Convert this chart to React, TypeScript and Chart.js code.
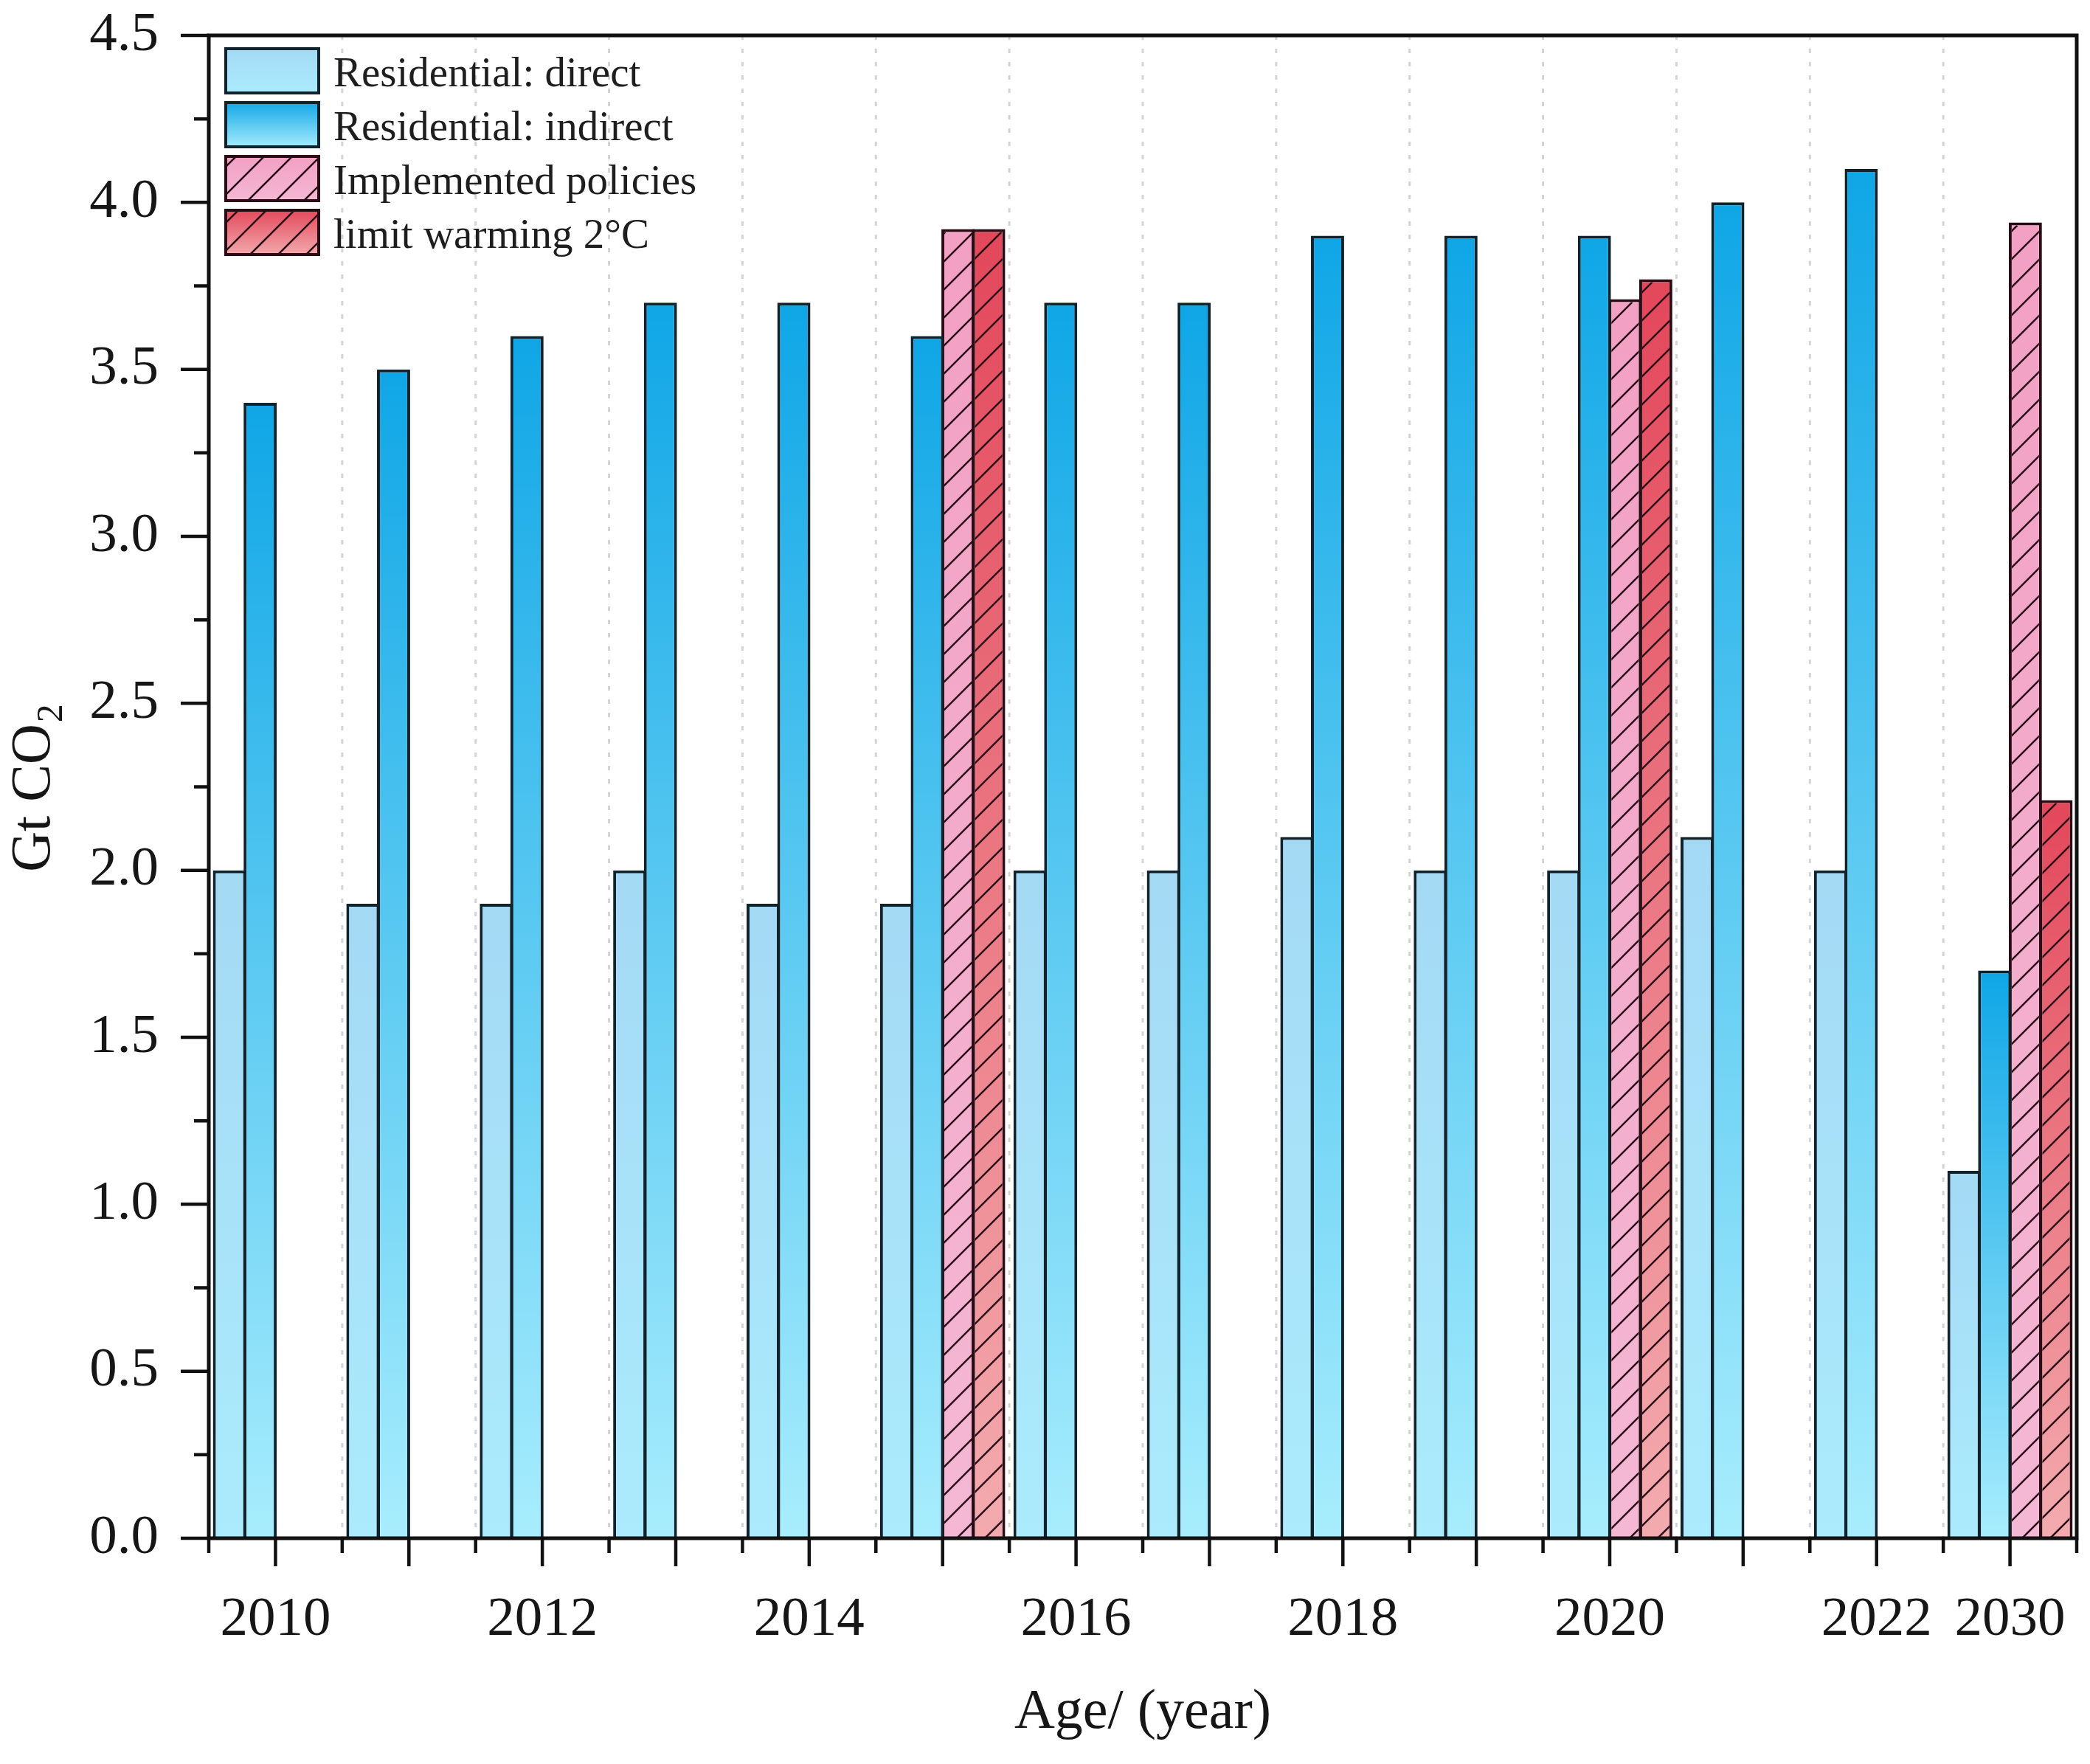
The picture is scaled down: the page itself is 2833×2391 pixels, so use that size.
import { useEffect, useRef } from "react";
import { Chart, registerables } from "chart.js";

Chart.register(...registerables);

const categories = ["2010", "2011", "2012", "2013", "2014", "2015", "2016", "2017", "2018", "2019", "2020", "2021", "2022", "2030"];
const shownTickLabels = ["2010", "2012", "2014", "2016", "2018", "2020", "2022", "2030"];

const directValues = [2.0, 1.9, 1.9, 2.0, 1.9, 1.9, 2.0, 2.0, 2.1, 2.0, 2.0, 2.1, 2.0, 1.1];
const indirectValues = [3.4, 3.5, 3.6, 3.7, 3.7, 3.6, 3.7, 3.7, 3.9, 3.9, 3.9, 4.0, 4.1, 1.7];
const implementedValues = [null, null, null, null, null, 3.92, null, null, null, null, 3.71, null, null, 3.94];
const limitValues = [null, null, null, null, null, 3.92, null, null, null, null, 3.77, null, null, 2.21];

const seriesLabels = ["Residential: direct", "Residential: indirect", "Implemented policies", "limit warming 2\u00b0C"];

const FONT = '"Liberation Serif", "Times New Roman", serif';
const W = 2833;
const H = 2391;

// top / bottom colours of each series' gradient
const fills = [
  ["#a4d9f4", "#abebfd"],
  ["#0fa6e6", "#a8edfd"],
  ["#f2a0c3", "#f4b8d4"],
  ["#e3475a", "#f3abaf"],
];
const borders = ["#10232c", "#10232c", "#2a0c16", "#2a0c16"];
const hatched = [false, false, true, true];

const barGradient = (idx: number) => (ctx: any) => {
  const chart = ctx.chart;
  const yScale = chart.scales?.y;
  const [top, bottom] = fills[idx];
  if (!yScale || ctx.type !== "data" || ctx.raw == null) return top;
  const y0 = yScale.getPixelForValue(ctx.raw);
  const y1 = yScale.getPixelForValue(0);
  if (!Number.isFinite(y0) || !Number.isFinite(y1) || y0 === y1) return top;
  const g = chart.ctx.createLinearGradient(0, y0, 0, y1);
  g.addColorStop(0, top);
  g.addColorStop(1, bottom);
  return g;
};

function drawHatch(ctx: CanvasRenderingContext2D, l: number, t: number, r: number, b: number) {
  const gap = 38;
  ctx.save();
  ctx.beginPath();
  ctx.rect(l, t, r - l, b - t);
  ctx.clip();
  ctx.strokeStyle = "#2b0f18";
  ctx.lineWidth = 2.5;
  ctx.beginPath();
  const k0 = Math.floor((l + t) / gap) - 1;
  const k1 = Math.ceil((r + b) / gap) + 1;
  for (let k = k0; k <= k1; k++) {
    const c = k * gap;
    ctx.moveTo(c - b, b);
    ctx.lineTo(c - t, t);
  }
  ctx.stroke();
  ctx.restore();
}

const gridPlugin = {
  id: "dottedGrid",
  beforeDatasetsDraw(chart: any) {
    const { ctx, chartArea, scales } = chart;
    const xs = scales.x;
    ctx.save();
    ctx.strokeStyle = "#d4d4d4";
    ctx.lineWidth = 3;
    ctx.setLineDash([6, 12]);
    for (let i = 1; i < categories.length; i++) {
      const x = (xs.getPixelForValue(i - 1) + xs.getPixelForValue(i)) / 2;
      ctx.beginPath();
      ctx.moveTo(x, chartArea.top);
      ctx.lineTo(x, chartArea.bottom);
      ctx.stroke();
    }
    ctx.restore();
  },
};

const hatchPlugin = {
  id: "hatchBars",
  afterDatasetsDraw(chart: any) {
    const ctx = chart.ctx;
    chart.data.datasets.forEach((ds: any, di: number) => {
      if (!hatched[di]) return;
      const meta = chart.getDatasetMeta(di);
      meta.data.forEach((bar: any, i: number) => {
        if (ds.data[i] == null) return;
        const { x, y, base, width } = bar.getProps(["x", "y", "base", "width"], true);
        const bw = 4;
        drawHatch(ctx, x - width / 2 + bw, y + bw, x + width / 2 - bw, base);
      });
    });
  },
};

const framePlugin = {
  id: "frameTicks",
  afterDatasetsDraw(chart: any) {
    const { ctx, chartArea, scales } = chart;
    const { left, right, top, bottom } = chartArea;
    const xs = scales.x;
    const ys = scales.y;
    ctx.save();
    ctx.strokeStyle = "#111";
    ctx.lineWidth = 5;
    ctx.lineCap = "square";
    ctx.beginPath();
    ctx.moveTo(left, top);
    ctx.lineTo(right, top);
    ctx.lineTo(right, bottom);
    ctx.lineTo(left, bottom);
    ctx.closePath();
    ctx.stroke();

    ctx.lineCap = "butt";
    ctx.lineWidth = 4.5;
    ctx.beginPath();
    // y ticks
    ys.ticks.forEach((t: any) => {
      const y = ys.getPixelForValue(t.value);
      ctx.moveTo(left, y);
      ctx.lineTo(left - 38, y);
      const m = t.value + 0.25;
      if (m < ys.max) {
        const ym = ys.getPixelForValue(m);
        ctx.moveTo(left, ym);
        ctx.lineTo(left - 20, ym);
      }
    });
    // x ticks: long at category centres, short at boundaries
    for (let i = 0; i < categories.length; i++) {
      const xc = xs.getPixelForValue(i);
      ctx.moveTo(xc, bottom);
      ctx.lineTo(xc, bottom + 38);
    }
    for (let i = 0; i <= categories.length; i++) {
      const xb =
        i === 0 ? left : i === categories.length ? right : (xs.getPixelForValue(i - 1) + xs.getPixelForValue(i)) / 2;
      ctx.moveTo(xb, bottom);
      ctx.lineTo(xb, bottom + 20);
    }
    ctx.stroke();
    ctx.restore();
  },
};

const decorPlugin = {
  id: "legendTitles",
  afterDraw(chart: any) {
    const { ctx, chartArea } = chart;
    ctx.save();

    // legend
    const bx = chartArea.left + 21;
    const bwid = 130;
    const bh = 64;
    chart.data.datasets.forEach((ds: any, i: number) => {
      const by = chartArea.top + 16 + i * 73;
      const g = ctx.createLinearGradient(0, by, 0, by + bh);
      g.addColorStop(0, fills[i][0]);
      g.addColorStop(1, fills[i][1]);
      ctx.fillStyle = g;
      ctx.fillRect(bx, by, bwid, bh);
      if (hatched[i]) drawHatch(ctx, bx, by, bx + bwid, by + bh);
      ctx.strokeStyle = borders[i];
      ctx.lineWidth = 4;
      ctx.strokeRect(bx + 2, by + 2, bwid - 4, bh - 4);
      ctx.fillStyle = "#1e1e1e";
      ctx.font = `57px ${FONT}`;
      ctx.textAlign = "left";
      ctx.textBaseline = "alphabetic";
      ctx.fillText(ds.label, bx + 148, by + 53);
    });

    // x title
    ctx.fillStyle = "#161616";
    ctx.font = `76px ${FONT}`;
    ctx.textAlign = "center";
    ctx.textBaseline = "middle";
    ctx.fillText("Age/ (year)", (chartArea.left + chartArea.right) / 2, 2322);

    // y title with subscript
    ctx.translate(42, 1069);
    ctx.rotate(-Math.PI / 2);
    ctx.textAlign = "left";
    ctx.textBaseline = "alphabetic";
    ctx.font = `76px ${FONT}`;
    const main = "Gt CO";
    const w1 = ctx.measureText(main).width;
    ctx.font = `50px ${FONT}`;
    const w2 = ctx.measureText("2").width;
    const x0 = -(w1 + w2) / 2;
    ctx.font = `76px ${FONT}`;
    ctx.fillText(main, x0, 25);
    ctx.font = `50px ${FONT}`;
    ctx.fillText("2", x0 + w1 + 2, 42);
    ctx.restore();
  },
};

const zeroPadding = (s: any) => {
  s.paddingTop = 0;
  s.paddingBottom = 0;
  s.paddingLeft = 0;
  s.paddingRight = 0;
};

const App = () => {
  const chartRef = useRef<HTMLCanvasElement>(null);
  const chartInstanceRef = useRef<Chart>();

  useEffect(() => {
    if (!chartRef.current) return;
    document.body.style.margin = "0";
    const ctx = chartRef.current.getContext("2d");

    const valueSets = [directValues, indirectValues, implementedValues, limitValues];
    const datasets = valueSets.map((vals, i) => ({
      label: seriesLabels[i],
      data: vals,
      backgroundColor: barGradient(i),
      borderColor: borders[i],
      borderWidth: 4,
      borderSkipped: "start" as const,
      categoryPercentage: 0.92,
      barPercentage: 1.08,
    }));

    if (chartInstanceRef.current) chartInstanceRef.current.destroy();

    chartInstanceRef.current = new Chart(ctx!, {
      type: "bar",
      data: { labels: categories, datasets: datasets as any },
      plugins: [gridPlugin, hatchPlugin, framePlugin, decorPlugin],
      options: {
        animation: false,
        responsive: false,
        devicePixelRatio: 1,
        layout: { padding: { top: 48, right: 18, left: 0, bottom: 0 } },
        plugins: {
          legend: { display: false },
          tooltip: { enabled: false },
        },
        scales: {
          x: {
            type: "category",
            offset: true,
            grid: { display: false, drawTicks: false },
            border: { display: false },
            ticks: {
              autoSkip: false,
              maxRotation: 0,
              color: "#161616",
              padding: 66,
              font: { family: FONT, size: 75 },
              callback: (_v: any, index: number) =>
                shownTickLabels.includes(categories[index]) ? categories[index] : "",
            },
            afterFit: (s: any) => {
              s.height = 306;
              zeroPadding(s);
            },
          },
          y: {
            min: 0,
            max: 4.5,
            grid: { display: false, drawTicks: false },
            border: { display: false },
            ticks: {
              stepSize: 0.5,
              color: "#161616",
              padding: 68,
              font: { family: FONT, size: 75 },
              callback: (v: any) => Number(v).toFixed(1),
            },
            afterFit: (s: any) => {
              s.width = 283;
              zeroPadding(s);
            },
          },
        },
      },
    });

    return () => {
      if (chartInstanceRef.current) {
        chartInstanceRef.current.destroy();
        chartInstanceRef.current = undefined;
      }
    };
  }, []);

  return (
    <div style={{ position: "absolute", left: 0, top: 0, width: W, height: H, background: "#fff" }}>
      <canvas ref={chartRef} width={W} height={H} style={{ display: "block", width: W, height: H }}></canvas>
    </div>
  );
};

export default App;
